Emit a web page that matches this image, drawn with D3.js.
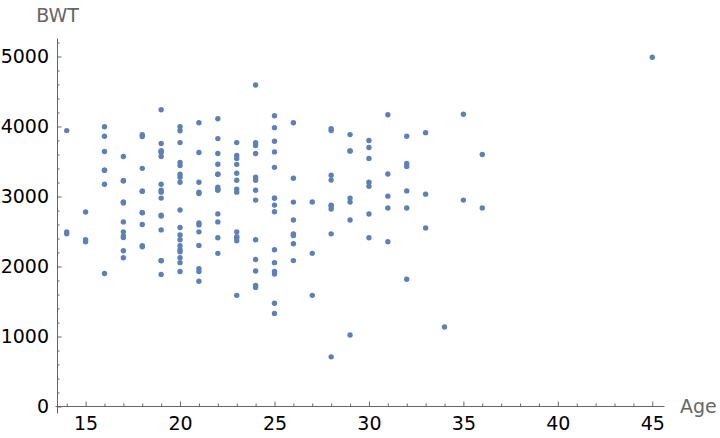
<!DOCTYPE html>
<html><head><meta charset="utf-8">
<script src="https://cdn.jsdelivr.net/npm/d3@7"></script>
<style>
html,body{margin:0;padding:0;background:#fff;}
svg{display:block;}
</style></head>
<body>
<svg id="chart" width="720" height="438"></svg>
<script>
const age = [19,33,20,21,18,21,22,17,29,26,19,19,22,30,18,18,15,25,20,28,32,31,36,28,25,28,17,29,26,17,17,24,35,25,25,29,19,27,31,33,21,19,23,21,18,18,32,19,24,22,22,23,22,30,19,16,21,30,20,17,17,23,24,28,26,20,24,28,20,22,22,31,23,16,16,18,25,32,20,23,22,32,30,20,23,17,19,23,36,22,24,21,19,25,16,29,29,19,19,30,24,19,24,23,20,25,30,22,18,16,32,18,29,33,20,28,14,28,25,16,20,26,21,22,25,31,35,19,24,45,
28,29,34,25,25,27,23,24,24,21,32,19,25,16,25,20,21,24,21,20,25,19,19,26,24,17,20,22,27,20,17,25,20,18,18,20,21,26,31,15,23,20,24,15,23,30,22,17,23,17,26,20,26,14,28,14,23,17,21];
const bwt = [2523,2551,2557,2594,2600,2622,2637,2637,2663,2665,2722,2733,2751,2750,2769,2769,2778,2782,2807,2821,2835,2835,2836,2863,2877,2877,2906,2920,2920,2920,2920,2948,2948,2977,2977,2977,2977,2922,3005,3033,3042,3062,3062,3062,3076,3076,3080,3090,3090,3090,3100,3104,3132,3147,3175,3175,3203,3203,3203,3225,3225,3232,3232,3234,3260,3274,3274,3303,3317,3317,3317,3321,3331,3374,3374,3402,3416,3430,3444,3459,3460,3473,3544,3487,3544,3572,3572,3586,3600,3614,3614,3629,3629,3637,3643,3651,3651,3651,3651,3699,3728,3756,3770,3770,3770,3790,3799,3827,3856,3860,3860,3884,3884,3912,3940,3941,3941,3969,3983,3997,3997,4054,4054,4111,4153,4167,4174,4238,4593,4990,
709,1021,1135,1330,1474,1588,1588,1701,1729,1790,1818,1885,1893,1899,1928,1928,1928,1936,1970,2055,2055,2082,2084,2084,2100,2125,2126,2187,2187,2211,2225,2240,2240,2282,2296,2296,2301,2325,2353,2353,2367,2381,2381,2381,2410,2410,2410,2414,2424,2438,2442,2450,2466,2466,2466,2495,2495,2495,2495];
const xMajorTicks = [15,20,25,30,35,40,45];
const xMinorTicks = [14,16,17,18,19,21,22,23,24,26,27,28,29,31,32,33,34,36,37,38,39,41,42,43,44];
const yMajorTicks = [0,1000,2000,3000,4000,5000];
const yMinorTicks = [200,400,600,800,1200,1400,1600,1800,2200,2400,2600,2800,3200,3400,3600,3800,4200,4400,4600,4800,5200];
const xLabel = "Age", yLabel = "BWT";

const svg = d3.select("#chart");
const axisColor = "#666666";
const font = "'DejaVu Sans', sans-serif";

const x = d3.scaleLinear().domain([13.38, 45.62]).range([55, 664]);
const y = d3.scaleLinear().domain([-93, 5264]).range([413, 38]);

// x axis
const gx = svg.append("g").attr("transform", "translate(0,406)");
gx.call(d3.axisBottom(x).tickValues(xMajorTicks).tickSizeInner(-4.5).tickSizeOuter(0).tickPadding(11).tickFormat(d3.format("d")));
const gxm = svg.append("g").attr("transform", "translate(0,406)");
gxm.call(d3.axisBottom(x).tickValues(xMinorTicks).tickSizeInner(-2.5).tickSizeOuter(0).tickFormat(""));
gxm.select(".domain").remove();

// y axis
const gy = svg.append("g").attr("transform", "translate(57,0)");
gy.call(d3.axisLeft(y).tickValues(yMajorTicks).tickSizeInner(-4.5).tickSizeOuter(0).tickPadding(8).tickFormat(d3.format("d")));
const gym = svg.append("g").attr("transform", "translate(57,0)");
gym.call(d3.axisLeft(y).tickValues(yMinorTicks).tickSizeInner(-2.5).tickSizeOuter(0).tickFormat(""));
gym.select(".domain").remove();

svg.selectAll(".domain, .tick line").attr("stroke", axisColor).attr("stroke-width", 1);
svg.selectAll(".tick text").attr("fill", "#000").style("font-family", font).style("font-size", "19px");

// points
svg.append("g").selectAll("circle").data(age.map((a, i) => [a, bwt[i]])).join("circle")
  .attr("cx", d => x(d[0])).attr("cy", d => y(d[1])).attr("r", 2.7)
  .attr("fill", "#5E81B5");

// axis labels
svg.append("text").attr("x", 57.5).attr("y", 22).attr("text-anchor", "middle")
  .attr("fill", "#666666").style("font-family", font).style("font-size", "19px").text(yLabel);
svg.append("text").attr("x", 680).attr("y", 413).attr("text-anchor", "start")
  .attr("fill", "#666666").style("font-family", font).style("font-size", "19px").text(xLabel);
</script>
</body></html>
